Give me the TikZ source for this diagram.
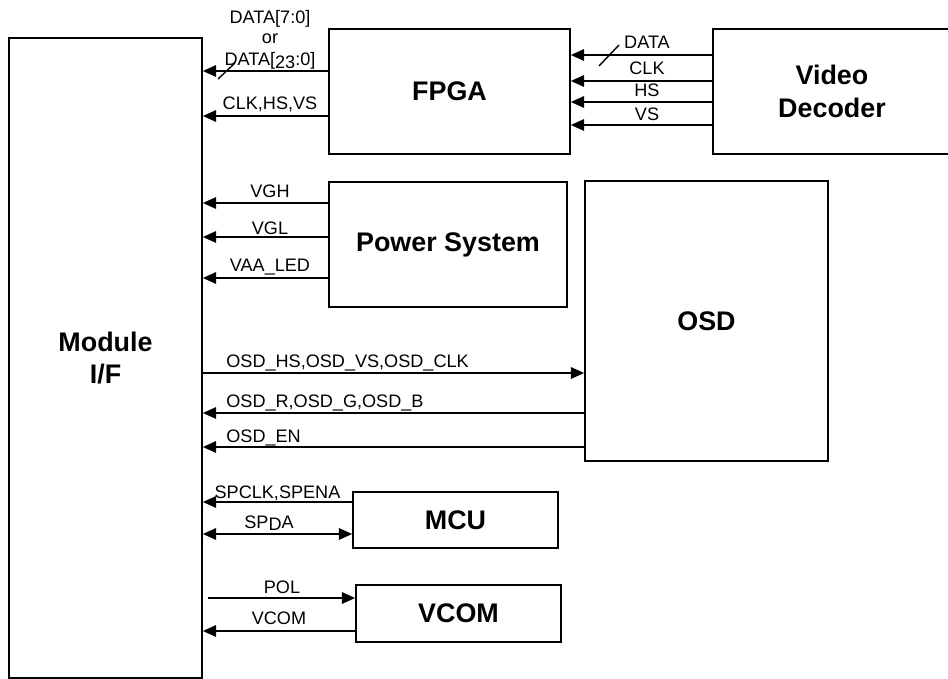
\documentclass[tikz,border=0pt]{standalone}
\usepackage{fontspec}
\setmainfont{Liberation Sans}
\usetikzlibrary{arrows.meta, positioning}

\begin{document}
\begin{tikzpicture}[
  x=0.02cm, y=-0.02cm,
  blk/.style={draw, line width=1pt, inner sep=0pt, align=center,
              font=\fontsize{15.3}{18.7}\selectfont\bfseries},
  lbl/.style={inner sep=0pt, anchor=base, font=\fontsize{10.3}{12}\selectfont},
  lblw/.style={lbl, anchor=base west},
  arr/.style={-{Triangle[length=7.5pt, width=6.5pt]}, line width=1pt},
  darr/.style={{Triangle[length=7.5pt, width=6.5pt]}-{Triangle[length=7.5pt, width=6.5pt]}, line width=1pt},
]
\useasboundingbox (0,0) rectangle (948,679);

%% --- Blocks ---
\node[blk, minimum width=3.86cm, minimum height=12.8cm] (mif) at (105.5,358) {Module\\I/F};
\node[blk, minimum width=4.82cm, minimum height=2.5cm] (fpga) at (449.5,91.5) {FPGA};
\node[blk, minimum width=4.76cm, minimum height=2.5cm] (dec) at (832,91.5) {Video\\Decoder};
\node[blk, minimum width=4.76cm, minimum height=2.5cm] (pwr) at (448,244.5) {Power System};
\node[blk, minimum width=4.86cm, minimum height=5.6cm] (osd) at (706.5,321) {OSD};
\node[blk, minimum width=4.1cm, minimum height=1.12cm] (mcu) at (455.5,520) {MCU};
\node[blk, minimum width=4.1cm, minimum height=1.14cm] (vcom) at (458.5,613.5) {VCOM};

%% --- FPGA to module ---
\draw[arr] (fpga.west |- 0,71) -- (mif.east |- 0,71);
\draw[arr] (fpga.west |- 0,116) -- (mif.east |- 0,116);
\draw[line width=0.8pt] (218,79) -- (235,63);
\node[lbl] (ldata) at (270,24) {DATA[7:0]};
\node[lbl] (lor) at (270,44) {or};
\node[lbl] (ldatab) at (270,66) {DATA[\raisebox{-1.5pt}{23}:0]};
\node[lbl] (lclk) at (270,110) {CLK,HS,VS};

%% --- Video decoder to FPGA ---
\foreach \yy in {55,81,102,125}
  \draw[arr] (dec.west |- 0,\yy) -- (fpga.east |- 0,\yy);
\draw[line width=0.8pt] (599,66) -- (619,45);
\node[lbl] (ddata) at (647,49) {DATA};
\node[lbl] (dclk) at (647,75) {CLK};
\node[lbl] (dhs) at (647,97) {HS};
\node[lbl] (dvs) at (647,121) {VS};

%% --- Power system ---
\draw[arr] (pwr.west |- 0,203) -- (mif.east |- 0,203);
\draw[arr] (pwr.west |- 0,237) -- (mif.east |- 0,237);
\draw[arr] (pwr.west |- 0,278) -- (mif.east |- 0,278);
\node[lbl] (lvgh) at (270,198) {VGH};
\node[lbl] (lvgl) at (270,235) {VGL};
\node[lbl] (lvaa) at (270,272) {VAA\_LED};

%% --- OSD ---
\draw[arr] (mif.east |- 0,373) -- (osd.west |- 0,373);
\draw[arr] (osd.west |- 0,413) -- (mif.east |- 0,413);
\draw[arr] (osd.west |- 0,447) -- (mif.east |- 0,447);
\node[lblw] (losync) at (226,368) {OSD\_HS,OSD\_VS,OSD\_CLK};
\node[lblw] (lorgb) at (226,407) {OSD\_R,OSD\_G,OSD\_B};
\node[lblw] (loen) at (226,442) {OSD\_EN};

%% --- MCU ---
\draw[arr] (mcu.west |- 0,502) -- (mif.east |- 0,502);
\draw[darr] (mif.east |- 0,534) -- (mcu.west |- 0,534);
\node[lbl] (lspclk) at (277.5,499) {SPCLK,SPENA};
\node[lbl] (lspda) at (269,528) {SP\raisebox{-1.5pt}{D}A};

%% --- VCOM ---
\draw[arr] ([xshift=0.1cm]mif.east |- 0,598) -- (vcom.west |- 0,598);
\draw[arr] (vcom.west |- 0,631) -- (mif.east |- 0,631);
\node[lbl] (lpol) at (282,593) {POL};
\node[lbl] (lvcom) at (279,624) {VCOM};

\end{tikzpicture}
\end{document}
